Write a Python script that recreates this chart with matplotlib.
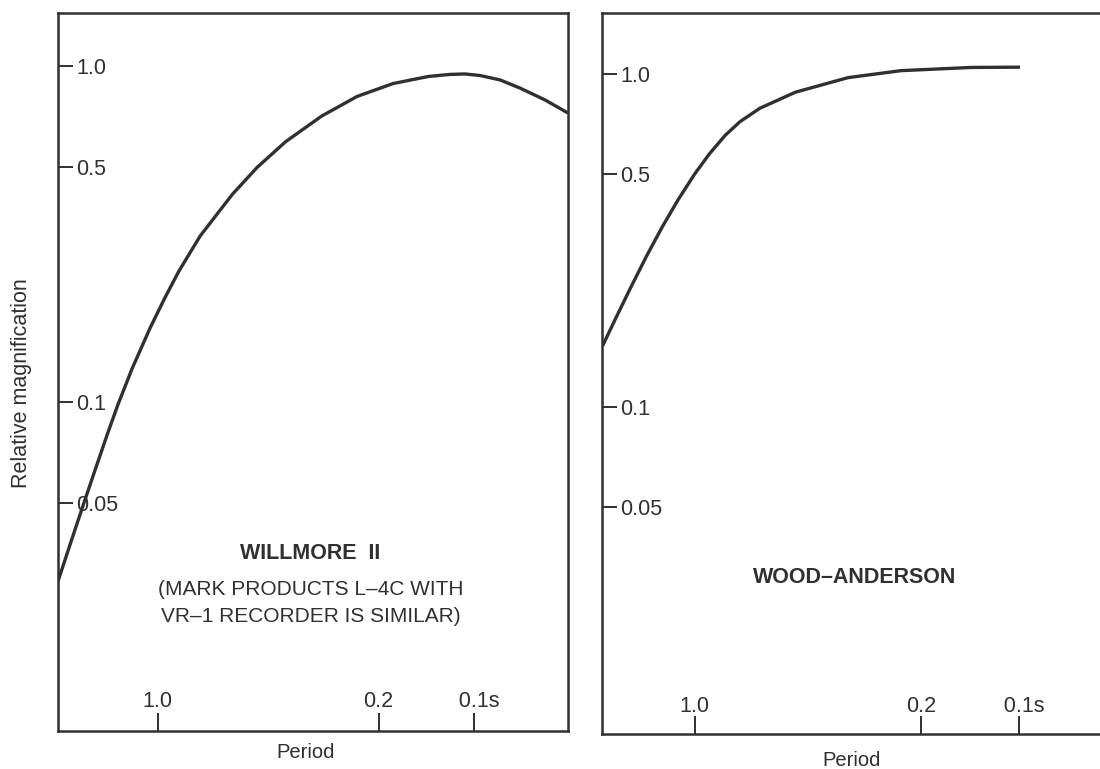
import matplotlib
matplotlib.use("Agg")
import matplotlib.pyplot as plt

plt.rcParams['font.family'] = ['Liberation Sans', 'DejaVu Sans']

# period (s) and relative magnification
willmore_period = [2.068, 1.876, 1.712, 1.563, 1.446, 1.337, 1.205, 1.058, 0.953,
                   0.859, 0.735, 0.581, 0.485, 0.394, 0.303, 0.234, 0.180,
                   0.139, 0.119, 0.1065, 0.0955, 0.0825, 0.0714, 0.0595, 0.0503]
willmore_mag = [0.0293, 0.0387, 0.0501, 0.0645, 0.0798, 0.0981, 0.1257, 0.1657,
                0.2025, 0.244, 0.311, 0.414, 0.498, 0.594, 0.708, 0.810, 0.885,
                0.929, 0.942, 0.945, 0.935, 0.907, 0.858, 0.791, 0.723]

wood_period = [1.923, 1.740, 1.575, 1.408, 1.258, 1.124, 1.0, 0.899, 0.804,
               0.724, 0.628, 0.488, 0.336, 0.231, 0.140, 0.099]
wood_mag = [0.1522, 0.1867, 0.2277, 0.2828, 0.3467, 0.4183, 0.4992, 0.5751,
            0.6533, 0.7176, 0.7879, 0.880, 0.973, 1.021, 1.044, 1.046]

y_ticks = [1.0, 0.5, 0.1, 0.05]
y_labels = ['1.0', '0.5', '0.1', '0.05']
x_ticks = [1.0, 0.2, 0.1]
x_labels = ['1.0', '0.2', '\u20020.1s']

ink = '#303030'

fig = plt.figure(figsize=(11, 7.69), dpi=100)
ax1 = fig.add_axes([58 / 1100, 38 / 769, 510 / 1100, 718 / 769])
ax2 = fig.add_axes([602 / 1100, 35 / 769, 510 / 1100, 721 / 769])


def setup_axis(ax, xlim, ylim, xpad):
    ax.set_xscale('log')
    ax.set_yscale('log')
    ax.set_xlim(*xlim)
    ax.set_ylim(*ylim)
    ax.set_yticks(y_ticks, y_labels, ha='left')
    ax.set_xticks(x_ticks, x_labels, va='baseline')
    ax.minorticks_off()
    ax.tick_params(axis='y', direction='in', length=11, width=1.4, pad=-13,
                   labelsize=15.5, colors=ink)
    ax.tick_params(axis='x', direction='in', length=13, width=1.4, pad=xpad,
                   labelsize=15.5, colors=ink)
    for s in ax.spines.values():
        s.set_linewidth(1.8)
        s.set_color(ink)


setup_axis(ax1, (2.07, 0.0503), (0.01047, 1.435), -17.3)
setup_axis(ax2, (1.93, 0.0515), (0.01042, 1.521), -15.8)

ax1.plot(willmore_period, willmore_mag, color=ink, lw=2.4,
         solid_joinstyle='round', solid_capstyle='butt')
ax2.plot(wood_period, wood_mag, color=ink, lw=2.4,
         solid_joinstyle='round', solid_capstyle='butt')

# panel captions
ax1.text(0.494, 0.2396, 'WILLMORE  II', transform=ax1.transAxes, ha='center',
         va='baseline', fontsize=15.5, fontweight='bold', color=ink)
ax1.text(0.496, 0.1901, '(MARK PRODUCTS L\u20134C WITH', transform=ax1.transAxes,
         ha='center', va='baseline', fontsize=15, color=ink)
ax1.text(0.496, 0.1525, 'VR\u20131 RECORDER IS SIMILAR)', transform=ax1.transAxes,
         ha='center', va='baseline', fontsize=15, color=ink)
ax2.text(0.496, 0.2094, 'WOOD\u2013ANDERSON', transform=ax2.transAxes, ha='center',
         va='baseline', fontsize=15.5, fontweight='bold', color=ink)

# axis titles
fig.text(306 / 1100, 1 - 752 / 769, 'Period', ha='center', va='center',
         fontsize=14.5, color=ink)
fig.text(852 / 1100, 1 - 760 / 769, 'Period', ha='center', va='center',
         fontsize=14.5, color=ink)
fig.text(21.5 / 1100, 1 - 383 / 769, 'Relative magnification', rotation=90,
         ha='center', va='center', fontsize=15.5, color=ink)

fig.savefig('out.png', dpi=100)
